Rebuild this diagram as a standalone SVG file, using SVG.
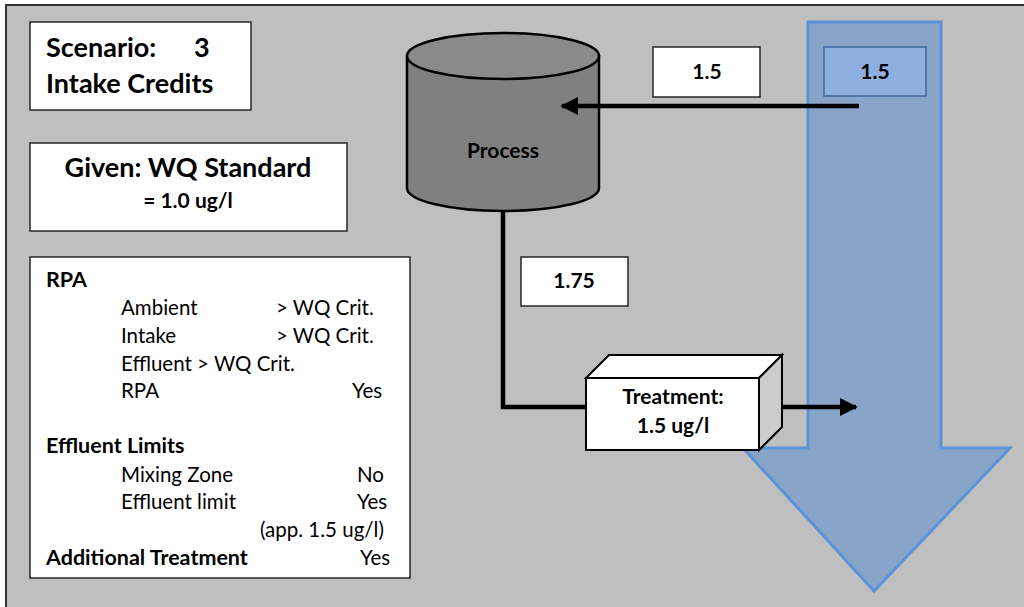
<svg xmlns="http://www.w3.org/2000/svg" width="1024" height="607" viewBox="0 0 1024 607">
  <style>
    .box { fill: #ffffff; stroke: #262626; stroke-width: 1.5; }
    .t { font-family: Lato, "Liberation Sans", sans-serif; fill: #000000; }
    .b { font-weight: bold; }
    .big { font-size: 27px; }
    .lbl { font-size: 21px; }
    .row { font-size: 20.5px; }
    .rowb { font-size: 21.5px; font-weight: bold; }
    .wire { fill: none; stroke: #000000; stroke-width: 4.5; }
  </style>
  <defs>
    <marker id="head" viewBox="0 0 10 10" refX="9" refY="5" markerWidth="4" markerHeight="4" orient="auto" markerUnits="strokeWidth">
      <path d="M0,0 L10,5 L0,10 Z" fill="#000000"/>
    </marker>
  </defs>

  <!-- page -->
  <rect x="0" y="0" width="1024" height="607" fill="#ffffff"/>
  <rect x="6" y="5" width="1030" height="620" fill="#bfbfbf" stroke="#333333" stroke-width="2"/>

  <!-- receiving water flow -->
  <g id="stream">
    <path d="M808,22 L941,22 L941,448 L1010,448 L874,591 L743,448 L808,448 Z" fill="#88a5c9" stroke="#5b93d9" stroke-width="3" stroke-linejoin="miter"/>
  </g>

  <g id="scenario">
    <rect class="box" x="30" y="22" width="221" height="88"/>
    <text class="t b big" x="46" y="57">Scenario:</text>
    <text class="t b big" x="194" y="57">3</text>
    <text class="t b big" x="46" y="93">Intake Credits</text>
  </g>

  <g id="given">
    <rect class="box" x="30" y="143" width="317" height="88"/>
    <text class="t b big" x="188" y="177" text-anchor="middle">Given: WQ Standard</text>
    <text class="t b" x="188" y="208" text-anchor="middle" font-size="21">= 1.0 ug/l</text>
  </g>

  <g id="summary">
    <rect class="box" x="30" y="257" width="380" height="321"/>
    <text class="t rowb" x="46" y="287">RPA</text>
    <text class="t row" x="121" y="315">Ambient</text>
    <text class="t row" x="276" y="315">&gt; WQ Crit.</text>
    <text class="t row" x="121" y="343">Intake</text>
    <text class="t row" x="276" y="343">&gt; WQ Crit.</text>
    <text class="t row" x="121" y="371">Effluent &gt; WQ Crit.</text>
    <text class="t row" x="121" y="398">RPA</text>
    <text class="t row" x="352" y="398">Yes</text>
    <text class="t rowb" x="46" y="453">Effluent Limits</text>
    <text class="t row" x="121" y="482">Mixing Zone</text>
    <text class="t row" x="357" y="482">No</text>
    <text class="t row" x="121" y="509">Effluent limit</text>
    <text class="t row" x="357" y="509">Yes</text>
    <text class="t row" x="260" y="537">(app. 1.5 ug/l)</text>
    <text class="t rowb" x="46" y="565">Additional Treatment</text>
    <text class="t row" x="360" y="565">Yes</text>
  </g>

  <g id="intake-value">
    <rect class="box" x="653" y="47" width="107" height="50"/>
    <text class="t b lbl" x="707" y="79" text-anchor="middle">1.5</text>
  </g>

  <g id="ambient-value">
    <rect x="824" y="47" width="102" height="49" fill="#8db0e0" stroke="#41699c" stroke-width="1.5"/>
    <text class="t b lbl" x="875" y="79" text-anchor="middle">1.5</text>
  </g>

  <g id="process">
    <path d="M407,56 L407,188 A96,23 0 0 0 599,188 L599,56 Z" fill="#808080" stroke="#000000" stroke-width="2.5"/>
    <ellipse cx="503" cy="56" rx="96" ry="23" fill="#8a8a8a" stroke="#000000" stroke-width="2.5"/>
    <text class="t b lbl" x="503" y="158" text-anchor="middle">Process</text>
  </g>

  <g id="effluent-value">
    <rect class="box" x="521" y="257" width="107" height="49"/>
    <text class="t b lbl" x="574" y="288" text-anchor="middle">1.75</text>
  </g>

  <!-- flow lines -->
  <g id="connectors">
    <line class="wire" x1="859" y1="106" x2="562" y2="106" marker-end="url(#head)"/>
    <polyline class="wire" points="503,210 503,407 588,407"/>
    <line class="wire" x1="782" y1="407" x2="856" y2="407" marker-end="url(#head)"/>
  </g>

  <g id="treatment">
    <path d="M586,378 L609,355 L782,355 L759,378 Z" fill="#ffffff" stroke="#000000" stroke-width="2"/>
    <path d="M759,378 L782,355 L782,427 L759,450 Z" fill="#cccccc" stroke="#000000" stroke-width="2"/>
    <rect x="586" y="378" width="173" height="72" fill="#ffffff" stroke="#000000" stroke-width="2"/>
    <text class="t b lbl" x="673" y="404" text-anchor="middle">Treatment:</text>
    <text class="t b lbl" x="673" y="433" text-anchor="middle">1.5 ug/l</text>
  </g>
</svg>
